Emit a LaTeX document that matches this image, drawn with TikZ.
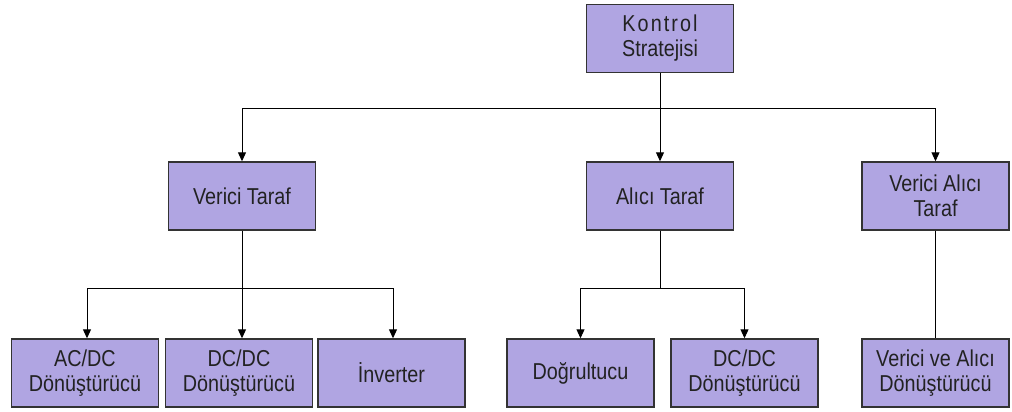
\documentclass[tikz,border=0pt]{standalone}
\usepackage{fontspec}
\setmainfont{Liberation Sans}[FakeStretch=0.86]
\usetikzlibrary{arrows.meta}
\definecolor{boxfill}{HTML}{B0A5E2}
\definecolor{boxline}{HTML}{333333}
\definecolor{txt}{HTML}{222222}
\begin{document}
\begin{tikzpicture}[x=1pt,y=-1pt,
  box/.style={draw=boxline,line width=1.4pt,fill=boxfill,minimum width=147pt,minimum height=68pt,
    align=center,text=txt,font=\fontsize{23}{25}\selectfont,inner sep=0pt},
  conn/.style={line width=1pt,black},
  arr/.style={conn,-{Triangle[width=8pt,length=9pt]}}]
\useasboundingbox (0,0) rectangle (1012,412);
\node[box] (ks) at (660,38.5) {{\addfontfeature{LetterSpace=9}Kontrol}\\Stratejisi};
\node[box] (vt) at (242,196) {Verici Taraf};
\node[box] (at) at (660,196) {Alıcı Taraf};
\node[box] (vat) at (935.5,196) {Verici Alıcı\\Taraf};
\node[box] (acdc) at (85,373) {AC/DC\\Dönüştürücü};
\node[box] (dcdc) at (239,373) {DC/DC\\Dönüştürücü};
\node[box] (inv) at (391.5,373) {İnverter};
\node[box] (dog) at (580.5,373) {Doğrultucu};
\node[box] (dcdc2) at (744.5,373) {DC/DC\\Dönüştürücü};
\node[box] (vad) at (935.5,373) {Verici ve Alıcı\\Dönüştürücü};
\coordinate (j1) at (660,108);
\coordinate (j2) at (242,288);
\coordinate (j3) at (660,288);
\draw[conn] (ks.south) -- (j1);
\draw[arr] (j1) -| (vt.north);
\draw[arr] (j1) -- (at.north);
\draw[arr] (j1) -| (vat.north);
\draw[conn] (vt.south) -- (j2);
\draw[arr] (j2) -| ([xshift=2pt]acdc.north);
\draw[arr] (j2) -- ([xshift=3pt]dcdc.north);
\draw[arr] (j2) -| ([xshift=1.5pt]inv.north);
\draw[conn] (at.south) -- (j3);
\draw[arr] (j3) -| (dog.north);
\draw[arr] (j3) -| (dcdc2.north);
\draw[conn] (vat.south) -- (vad.north);
\end{tikzpicture}
\end{document}
